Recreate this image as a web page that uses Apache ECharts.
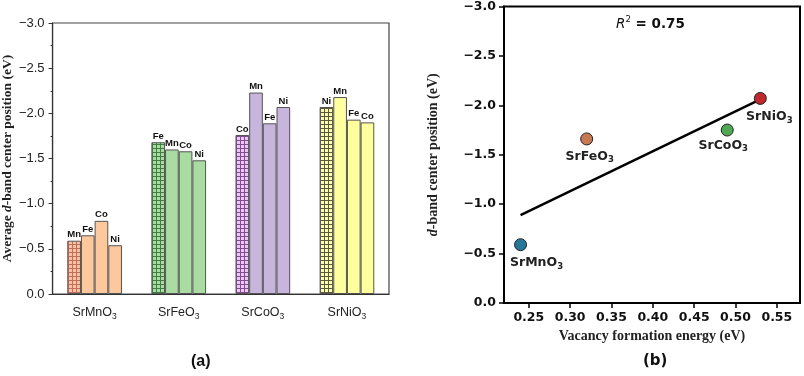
<!DOCTYPE html>
<html>
<head>
<meta charset="utf-8">
<script src="https://cdn.jsdelivr.net/npm/echarts@6/dist/echarts.min.js"></script>
<style>
  html, body { margin: 0; padding: 0; background: #fff; }
  #chart { width: 804px; height: 376px; }
</style>
</head>
<body>
<div id="chart"></div>
<script>
// (a) bar chart data
var categories = ['SrMnO3', 'SrFeO3', 'SrCoO3', 'SrNiO3'];
var srMnO3Labels = ['Mn', 'Fe', 'Co', 'Ni'];
var srMnO3Values = [-0.59, -0.65, -0.81, -0.54];
var srFeO3Labels = ['Fe', 'Mn', 'Co', 'Ni'];
var srFeO3Values = [-1.68, -1.60, -1.58, -1.48];
var srCoO3Labels = ['Co', 'Mn', 'Fe', 'Ni'];
var srCoO3Values = [-1.76, -2.23, -1.89, -2.07];
var srNiO3Labels = ['Ni', 'Mn', 'Fe', 'Co'];
var srNiO3Values = [-2.07, -2.18, -1.93, -1.90];

// (b) scatter data
var compounds = ['SrMnO3', 'SrFeO3', 'SrCoO3', 'SrNiO3'];
var vacancyEnergy = [0.24, 0.32, 0.49, 0.53];
var dBandCenter = [-0.59, -1.66, -1.75, -2.07];
var fitX = [0.24, 0.53];
var fitY = [-0.89, -2.06];
var xTicks = [0.25, 0.30, 0.35, 0.40, 0.45, 0.50, 0.55];

var groupLabels = [srMnO3Labels, srFeO3Labels, srCoO3Labels, srNiO3Labels];
var groupValues = [srMnO3Values, srFeO3Values, srCoO3Values, srNiO3Values];
var groupColors = ['#fcc89c', '#a9dba2', '#c7b5dd', '#ffff9e'];
var hatchBg = ['#fbc3a0', '#a9dba2', '#f2c4f2', '#ffff9e'];
var hatchLine = ['#c0705a', '#3f7f3f', '#7e4f90', '#5a5a3a'];
var pointColors = ['#24789a', '#c9784f', '#4fa852', '#c3272d'];
var labelOffsets = [[16, 0], [3, -1], [-4, -3], [9, 0]];

function hatch(bg, line) {
  var c = document.createElement('canvas');
  c.width = 4; c.height = 4;
  var ctx = c.getContext('2d');
  ctx.fillStyle = bg;
  ctx.fillRect(0, 0, 4, 4);
  ctx.fillStyle = line;
  ctx.fillRect(0, 0, 4, 1);
  ctx.fillRect(0, 0, 1, 4);
  return { image: c, repeat: 'repeat' };
}

function chem(name) {
  return '{a|' + name.slice(0, -1) + '}{s|' + name.slice(-1) + '}';
}

function minusFmt(v) {
  if (v === 0) return '0.0';
  return (v < 0 ? '\u2212' : '') + Math.abs(v).toFixed(1);
}

var barSeries = [];
for (var pos = 0; pos < 4; pos++) {
  var data = [];
  for (var g = 0; g < 4; g++) {
    data.push({
      value: groupValues[g][pos],
      itemStyle: { color: pos === 0 ? hatch(hatchBg[g], hatchLine[g]) : groupColors[g] },
      label: { formatter: groupLabels[g][pos] }
    });
  }
  barSeries.push({
    type: 'bar',
    xAxisIndex: 0,
    yAxisIndex: 0,
    barGap: '0%',
    barCategoryGap: '35%',
    data: data,
    itemStyle: { borderColor: '#555', borderWidth: 1 },
    label: {
      show: true,
      position: 'top',
      distance: 1,
      fontSize: 9.5,
      fontWeight: 'bold',
      fontFamily: 'Liberation Sans',
      color: '#111'
    }
  });
}

var scatterData = compounds.map(function (n, i) {
  return {
    value: [vacancyEnergy[i], dBandCenter[i]],
    name: n,
    itemStyle: { color: pointColors[i] },
    label: { offset: labelOffsets[i] }
  };
});

var chart = echarts.init(document.getElementById('chart'));
chart.setOption({
  animation: false,
  backgroundColor: '#fff',
  grid: [
    { left: 51, top: 23, width: 338, height: 271, show: true, borderColor: '#444', borderWidth: 1.2 },
    { left: 504, top: 6, width: 296, height: 297, show: true, borderColor: '#000', borderWidth: 2 }
  ],
  xAxis: [
    {
      type: 'category',
      gridIndex: 0,
      data: categories,
      axisLine: { lineStyle: { color: '#333', width: 1.2 } },
      axisTick: { alignWithLabel: true, length: 4, lineStyle: { color: '#333' } },
      axisLabel: {
        interval: 0,
        margin: 11,
        formatter: function (v) { return chem(v); },
        rich: {
          a: { fontFamily: 'Liberation Sans', fontSize: 12.5, color: '#222', lineHeight: 16 },
          s: { fontFamily: 'Liberation Sans', fontSize: 8.5, color: '#222', lineHeight: 8, verticalAlign: 'bottom' }
        }
      }
    },
    {
      type: 'value',
      gridIndex: 1,
      min: 0.22,
      max: 0.578,
      splitLine: { show: false },
      axisLine: { lineStyle: { color: '#000', width: 2 } },
      axisTick: { length: 5, lineStyle: { color: '#000', width: 1.5 }, customValues: xTicks },
      axisLabel: {
        customValues: xTicks,
        margin: 8,
        fontFamily: 'DejaVu Sans',
        fontWeight: 'bold',
        fontSize: 12.5,
        color: '#111',
        formatter: function (v) { return v.toFixed(2); }
      },
      name: 'Vacancy formation energy (eV)',
      nameLocation: 'middle',
      nameGap: 24,
      nameTextStyle: { fontFamily: 'Liberation Serif', fontWeight: 'bold', fontSize: 14, color: '#222' }
    }
  ],
  yAxis: [
    {
      type: 'value',
      gridIndex: 0,
      inverse: true,
      min: -3,
      max: 0,
      interval: 0.5,
      splitLine: { show: false },
      axisLine: { show: true, lineStyle: { color: '#333', width: 1.2 } },
      axisTick: { show: true, length: 4, lineStyle: { color: '#333' } },
      minorTick: { show: true, splitNumber: 2, length: 2, lineStyle: { color: '#333' } },
      axisLabel: {
        margin: 8,
        fontFamily: 'Liberation Sans',
        fontSize: 13,
        color: '#222',
        formatter: minusFmt
      },
      name: 'Average {i|d}-band center position (eV)',
      nameLocation: 'middle',
      nameGap: 35,
      nameRotate: 90,
      nameTextStyle: {
        fontFamily: 'Liberation Serif', fontWeight: 'bold', fontSize: 13.5, color: '#222',
        rich: { i: { fontFamily: 'Liberation Serif', fontWeight: 'bold', fontStyle: 'italic', fontSize: 13.5, color: '#222' } }
      }
    },
    {
      type: 'value',
      gridIndex: 1,
      inverse: true,
      min: -3,
      max: 0,
      interval: 0.5,
      splitLine: { show: false },
      axisLine: { show: true, lineStyle: { color: '#000', width: 2 } },
      axisTick: { show: true, length: 5, lineStyle: { color: '#000', width: 1.5 } },
      axisLabel: {
        margin: 8,
        fontFamily: 'DejaVu Sans',
        fontWeight: 'bold',
        fontSize: 12.5,
        color: '#111',
        formatter: minusFmt
      },
      name: '{i|d}-band center position (eV)',
      nameLocation: 'middle',
      nameGap: 64,
      nameRotate: 90,
      nameTextStyle: {
        fontFamily: 'Liberation Serif', fontWeight: 'bold', fontSize: 14, color: '#222',
        rich: { i: { fontFamily: 'Liberation Serif', fontWeight: 'bold', fontStyle: 'italic', fontSize: 14, color: '#222' } }
      }
    }
  ],
  series: barSeries.concat([
    {
      type: 'line',
      xAxisIndex: 1,
      yAxisIndex: 1,
      data: fitX.map(function (x, i) { return [x, fitY[i]]; }),
      symbol: 'none',
      lineStyle: { color: '#000', width: 2.5 },
      z: 2
    },
    {
      type: 'scatter',
      xAxisIndex: 1,
      yAxisIndex: 1,
      symbolSize: 12,
      data: scatterData,
      itemStyle: { borderColor: '#222', borderWidth: 1, opacity: 1 },
      label: {
        show: true,
        position: 'bottom',
        distance: 4,
        formatter: function (p) { return chem(p.name); },
        rich: {
          a: { fontFamily: 'DejaVu Sans', fontWeight: 'bold', fontSize: 12.5, color: '#222', lineHeight: 16 },
          s: { fontFamily: 'DejaVu Sans', fontWeight: 'bold', fontSize: 8.5, color: '#222', lineHeight: 8, verticalAlign: 'bottom' }
        }
      },
      z: 3
    }
  ]),
  graphic: [
    {
      type: 'text',
      left: 652 - 36,
      top: 15,
      style: {
        text: '{i|R}{sup|2}{b| = 0.75}',
        rich: {
          i: { fontFamily: 'DejaVu Sans', fontStyle: 'italic', fontSize: 13.5, fill: '#111', lineHeight: 18 },
          sup: { fontFamily: 'DejaVu Sans', fontSize: 8.5, fill: '#111', lineHeight: 8, verticalAlign: 'top' },
          b: { fontFamily: 'DejaVu Sans', fontWeight: 'bold', fontSize: 13.5, fill: '#111', lineHeight: 18 }
        }
      }
    },
    {
      type: 'text',
      left: 191,
      top: 354,
      style: { text: '(a)', fontFamily: 'Liberation Sans', fontWeight: 'bold', fontSize: 16, fill: '#111' }
    },
    {
      type: 'text',
      left: 643,
      top: 354,
      style: { text: '(b)', fontFamily: 'DejaVu Sans', fontWeight: 'bold', fontSize: 15, fill: '#111' }
    }
  ]
});
</script>
</body>
</html>
